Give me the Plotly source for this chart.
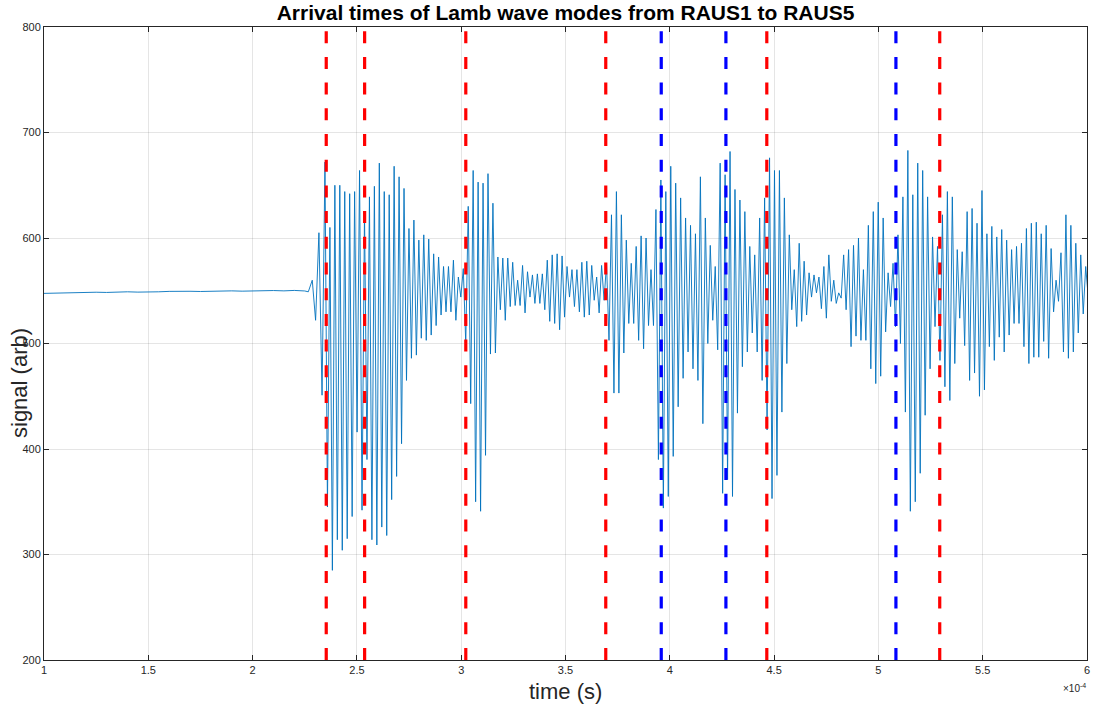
import plotly.graph_objects as go

# ---------------- data (time in units of 1e-4 s) ----------------
baseline_t = [1.00, 1.05, 1.10, 1.15, 1.20, 1.25, 1.30, 1.35, 1.40, 1.45, 1.50, 1.55, 1.60,
              1.65, 1.70, 1.75, 1.80, 1.85, 1.90, 1.95, 2.00, 2.05, 2.10, 2.15, 2.20, 2.25]
baseline_v = [547.5, 547.8, 548.0, 547.9, 548.3, 548.6, 548.4, 548.8, 549.0, 548.7, 549.2, 549.0, 549.4,
              549.1, 549.5, 549.3, 549.7, 549.4, 549.9, 549.6, 550.0, 549.7, 550.2, 549.9, 550.3, 549.8]

onset_t = [2.267, 2.286, 2.302, 2.318, 2.333]
onset_v = [549, 560, 522, 605, 451]

burst_start = 2.347      # first big peak
half_period = 0.01184    # sampling step between successive extrema

peaks = [
    672, 610, 650, 650, 644, 642, 644, 664, 625, 639, 649, 671, 644, 641, 668,
    658, 647, 609, 617, 598, 603, 599, 585, 582, 573, 573, 579, 563, 571, 630, 664, 653, 652, 661, 633,
    582, 581, 581, 577, 560, 574, 568, 565, 566, 566, 579, 584, 585, 583, 573, 570, 570, 577, 578, 574, 563,
    574, 576, 622, 644, 622, 598, 576, 592, 602, 600, 570, 627, 655, 644, 668, 652, 638, 619, 612,
    604, 658, 619, 593, 573, 671, 660, 682, 646, 636, 625, 592, 584, 619, 638, 676, 664, 664, 638, 603,
    570, 595, 578, 567, 565, 563, 573, 584, 560, 548, 584, 589, 593, 600, 570, 612, 625, 634, 619, 567, 576,
    603, 639, 683, 641, 671, 664, 639, 601, 592, 622, 644, 639, 589, 587, 625, 628, 614, 645, 604, 611,
    601, 608, 598, 589, 592, 595, 609, 614, 615, 604, 612, 590, 560, 586, 622, 612, 595, 584, 573,
]
troughs = [
    345, 285, 314, 304, 315, 336, 416, 342, 390, 314, 309, 326, 318, 352,
    374, 405, 465, 486, 489, 505, 503, 508, 517, 527, 530, 530, 522, 544, 500, 443, 350, 341, 394, 490, 491,
    532, 522, 535, 536, 536, 529, 544, 538, 538, 532, 521, 519, 513, 525, 544, 535, 530, 525, 527, 541,
    529,
    541, 503, 453, 453, 491, 519, 519, 503, 495, 517, 517, 390, 344, 355, 393, 440, 467, 492, 476,
    465, 424, 500, 522, 494, 358, 371, 355, 434, 478, 492, 510, 492, 465, 418, 353, 375, 435, 481, 532,
    516, 521, 527, 544, 548, 533, 524, 540, 538, 543, 532, 497, 507, 503, 503, 476, 462, 469, 511, 535, 516,
    500, 435, 341, 350, 377, 432, 476, 516, 484, 459, 446, 481, 524, 498, 465, 472, 450, 456, 497, 484,
    506, 492, 508, 519, 519, 497, 481, 487, 487, 502, 486, 530, 540, 492, 486, 492, 510, 528, 545,
]

red_times = [2.353, 2.537, 3.022, 3.693, 4.465, 5.294]
blue_times = [3.959, 4.269, 5.084]

x_tick_vals = [1, 1.5, 2, 2.5, 3, 3.5, 4, 4.5, 5, 5.5, 6]
x_tick_text = ["1", "1.5", "2", "2.5", "3", "3.5", "4", "4.5", "5", "5.5", "6"]
y_tick_vals = [200, 300, 400, 500, 600, 700, 800]

# ---------------- assemble signal ----------------
burst_v = []
for p, tr in zip(peaks, troughs):
    burst_v.extend([p, tr])
burst_t = [burst_start + i * half_period for i in range(len(burst_v))]

sig_t = baseline_t + onset_t + burst_t
sig_v = baseline_v + onset_v + burst_v

FONT = "Liberation Sans, Arial, Helvetica, sans-serif"
AXC = "#262626"

fig = go.Figure()
fig.add_trace(go.Scatter(x=sig_t, y=sig_v, mode="lines",
                         line=dict(color="#0072BD", width=0.9), showlegend=False, hoverinfo="skip"))
for t in red_times:
    fig.add_trace(go.Scatter(x=[t, t], y=[200, 800], mode="lines",
                             line=dict(color="#FF0000", width=3.2, dash="12px,13.7px"),
                             showlegend=False, hoverinfo="skip"))
for t in blue_times:
    fig.add_trace(go.Scatter(x=[t, t], y=[200, 800], mode="lines",
                             line=dict(color="#0000FF", width=3.2, dash="12px,13.7px"),
                             showlegend=False, hoverinfo="skip"))

axis_common = dict(showgrid=True, gridcolor="rgba(38,38,38,0.12)", gridwidth=1,
                   showline=True, linecolor=AXC, linewidth=1, mirror="ticks",
                   ticks="inside", ticklen=5, tickcolor=AXC, zeroline=False,
                   automargin=False, ticklabeloverflow="allow",
                   tickfont=dict(family=FONT, size=11, color=AXC))

fig.update_layout(
    width=1095, height=707,
    margin=dict(l=44, r=8, t=27, b=47, autoexpand=False),
    paper_bgcolor="white", plot_bgcolor="white",
    title=dict(text="<b>Arrival times of Lamb wave modes from RAUS1 to RAUS5</b>",
               x=0.5, xref="paper", xanchor="center",
               y=1 - 13 / 707, yref="container", yanchor="middle",
               font=dict(family=FONT, size=21, color="black")),
    xaxis=dict(range=[1, 6], tickvals=x_tick_vals, ticktext=x_tick_text, **axis_common),
    yaxis=dict(range=[200, 800], tickvals=y_tick_vals, **axis_common),
    annotations=[
        dict(text="time (s)", x=0.5, y=-31 / 633, xref="paper", yref="paper",
             xanchor="center", yanchor="middle", showarrow=False,
             font=dict(family=FONT, size=22, color=AXC)),
        dict(text="signal (arb)", x=-25 / 1043, y=(660 - 383) / 633, xref="paper", yref="paper",
             xanchor="center", yanchor="middle", textangle=-90, showarrow=False,
             font=dict(family=FONT, size=22, color=AXC)),
        dict(text="×10<sup>-4</sup>", x=(1074 - 44) / 1043, y=-28 / 633, xref="paper", yref="paper",
             xanchor="center", yanchor="middle", showarrow=False,
             font=dict(family=FONT, size=10, color=AXC)),
    ],
)

fig.write_html("out.html", config={"displayModeBar": False},
               post_script="document.body.style.margin='0px';document.body.style.padding='0px';")
